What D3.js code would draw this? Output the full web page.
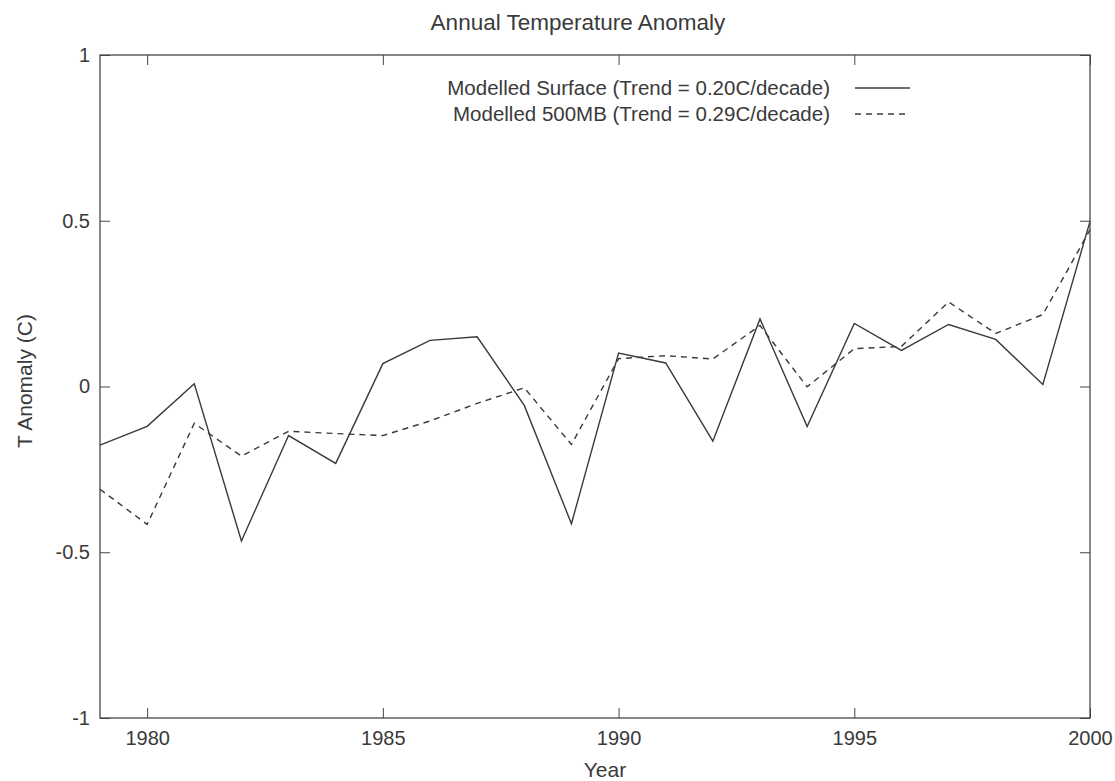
<!DOCTYPE html>
<html>
<head>
<meta charset="utf-8">
<script src="https://cdn.jsdelivr.net/npm/d3@7"></script>
<style>
  body { margin: 0; background: #fff; }
  text { font-family: "Liberation Sans", Arial, sans-serif; fill: #3a3a3a; }
  .axis line { stroke: #444; }
</style>
</head>
<body>
<div id="chart"></div>
<script>
var years = d3.range(1979, 2001);
var surface = [-0.177, -0.12, 0.008, -0.466, -0.148, -0.232, 0.069, 0.139, 0.150, -0.057, -0.414,
               0.101, 0.071, -0.165, 0.204, -0.121, 0.19, 0.109, 0.187, 0.142, 0.006, 0.498];
var mb500 = [-0.31, -0.416, -0.111, -0.21, -0.135, -0.142, -0.148, -0.104, -0.051, -0.004, -0.175,
             0.084, 0.093, 0.083, 0.184, -0.001, 0.114, 0.121, 0.255, 0.16, 0.217, 0.473];
var xTicks = [1980, 1985, 1990, 1995, 2000];
var yTicks = [-1, -0.5, 0, 0.5, 1];
var seriesNames = ["Modelled Surface (Trend = 0.20C/decade)", "Modelled 500MB (Trend = 0.29C/decade)"];

var margin = { top: 55, right: 25, bottom: 63, left: 100 },
    width = 1115 - margin.left - margin.right,
    height = 781 - margin.top - margin.bottom;

var svg = d3.select("#chart").append("svg")
    .attr("width", 1115)
    .attr("height", 781);

var g = svg.append("g")
    .attr("transform", "translate(" + margin.left + "," + margin.top + ")");

var x = d3.scaleLinear().domain([1979, 2000]).range([0, width]);
var y = d3.scaleLinear().domain([-1, 1]).range([height, 0]);

var fmtY = function (d) { return d === 0 ? "0" : String(d); };

// frame
g.append("rect")
    .attr("width", width).attr("height", height)
    .attr("fill", "none").attr("stroke", "#484848").attr("stroke-width", 1.3);

// axes, ticks pointing inwards on all four sides
g.append("g").attr("class", "axis")
    .attr("transform", "translate(0," + height + ")")
    .call(d3.axisBottom(x).tickValues(xTicks).tickFormat(d3.format("d")).tickSizeInner(-10).tickSizeOuter(0).tickPadding(13));
g.append("g").attr("class", "axis")
    .call(d3.axisLeft(y).tickValues(yTicks).tickFormat(fmtY).tickSizeInner(-10).tickSizeOuter(0).tickPadding(10));
g.append("g").attr("class", "axis")
    .call(d3.axisTop(x).tickValues(xTicks).tickFormat("").tickSizeInner(-10).tickSizeOuter(0));
g.append("g").attr("class", "axis")
    .attr("transform", "translate(" + width + ",0)")
    .call(d3.axisRight(y).tickValues(yTicks).tickFormat("").tickSizeInner(-10).tickSizeOuter(0));

g.selectAll(".axis path").remove();
g.selectAll(".axis text").style("font-size", "20px").style("fill", "#3a3a3a")
    .style("font-family", "'Liberation Sans', Arial, sans-serif");

// lines
var line = function (vals) {
    return d3.line()
        .x(function (d, i) { return x(years[i]); })
        .y(function (d) { return y(d); })(vals);
};

g.append("path")
    .attr("d", line(surface))
    .attr("fill", "none").attr("stroke", "#3a3a3a").attr("stroke-width", 1.4);

g.append("path")
    .attr("d", line(mb500))
    .attr("fill", "none").attr("stroke", "#3a3a3a").attr("stroke-width", 1.4)
    .attr("stroke-dasharray", "6,5");

// legend
var legend = g.append("g").attr("transform", "translate(730,33)");
seriesNames.forEach(function (name, i) {
    legend.append("text")
        .attr("x", 0).attr("y", i * 26)
        .attr("dy", "0.35em")
        .attr("text-anchor", "end")
        .style("font-size", "20.5px")
        .text(name);
    legend.append("line")
        .attr("x1", 25).attr("x2", 80)
        .attr("y1", i * 26).attr("y2", i * 26)
        .attr("stroke", "#3a3a3a").attr("stroke-width", 1.3)
        .attr("stroke-dasharray", i === 1 ? "6,5" : null);
});

// titles
svg.append("text")
    .attr("x", 578).attr("y", 30)
    .attr("text-anchor", "middle")
    .style("font-size", "22.5px")
    .text("Annual Temperature Anomaly");

svg.append("text")
    .attr("x", 605).attr("y", 777)
    .attr("text-anchor", "middle")
    .style("font-size", "21px")
    .text("Year");

svg.append("text")
    .attr("transform", "translate(32,381) rotate(-90)")
    .attr("text-anchor", "middle")
    .style("font-size", "21px")
    .text("T Anomaly (C)");
</script>
</body>
</html>
